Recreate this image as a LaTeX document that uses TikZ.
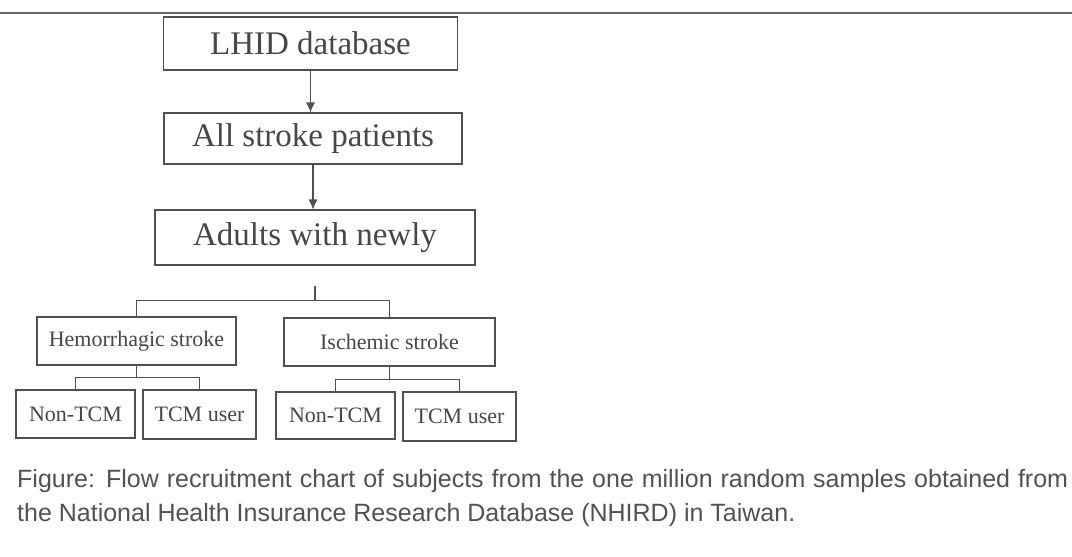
\documentclass[tikz,border=0pt]{standalone}
\usepackage{fontspec}
\setmainfont{Liberation Serif}
\newfontfamily\capfont{Liberation Sans}
\usetikzlibrary{calc,arrows.meta}

\definecolor{inkgray}{HTML}{474747}
\definecolor{linegray}{HTML}{505050}
\definecolor{capgray}{HTML}{525252}

\tikzset{
	bigbox/.style={draw=linegray, line width=1.1pt, text=inkgray, inner sep=0pt,
		font=\fontsize{33}{33}\selectfont},
	smallbox/.style={draw=linegray, line width=1.1pt, text=inkgray, inner sep=0pt,
		font=\fontsize{22}{22}\selectfont},
	flow/.style={draw=linegray, line width=1.1pt, -{Latex[length=10pt,width=9pt]}},
	branch/.style={draw=linegray, line width=1.1pt},
	capline/.style={anchor=base west, inner sep=0pt, text=capgray,
		font=\capfont\fontsize{25}{34}\selectfont}
}

\begin{document}
\begin{tikzpicture}[x=1pt, y=-1pt]
			%%%%% START %%%%%
			\useasboundingbox[fill=white] (0, 0) rectangle (1072, 557);
			
			\draw[line width=1.3pt, color=black!60] (0, 13) -- (1072, 13);
			
			\node[bigbox, minimum width=294pt, minimum height=53pt] (lhid) at (310.5, 43.5) {LHID database};
			\node[bigbox, minimum width=298pt, minimum height=51pt] (allstroke) at (313, 138.5) {All stroke patients};
			\node[bigbox, minimum width=320pt, minimum height=55pt] (adults) at (315, 237.5) {Adults with newly};
			
			\draw[flow] (lhid.south) -- (lhid.south |- allstroke.north);
			\draw[flow] (allstroke.south) -- (allstroke.south |- adults.north);
			
			\node[smallbox, minimum width=199pt, minimum height=48pt] (hemo) at (136.5, 341) {Hemorrhagic stroke};
			\node[smallbox, minimum width=211pt, minimum height=48pt] (isch) at (389.5, 342) {Ischemic stroke};
			
			\coordinate (tick) at ($(adults.south)+(0, 20)$);
			\coordinate (fork) at ($(adults.south)+(0, 35)$);
			\draw[branch] (tick) -- (fork);
			\draw[branch] (hemo.north) |- (fork) -| (isch.north);
			
			\node[smallbox, minimum width=119pt, minimum height=48pt] (nonA) at (75.5, 414) {Non-TCM};
			\node[smallbox, minimum width=113pt, minimum height=49pt] (tcmA) at (199.5, 414.5) {TCM user};
			\node[smallbox, minimum width=119pt, minimum height=47pt] (nonB) at (335.5, 415.5) {Non-TCM};
			\node[smallbox, minimum width=113pt, minimum height=49pt] (tcmB) at (459.5, 416.5) {TCM user};
			
			\coordinate (forkA) at ($(hemo.south)+(0, 12)$);
			\draw[branch] (hemo.south) -- (forkA);
			\draw[branch] (nonA.north) |- (forkA) -| (tcmA.north);
			
			\coordinate (forkB) at ($(isch.south)+(0, 13)$);
			\draw[branch] (isch.south) -- (forkB);
			\draw[branch] (nonB.north) |- (forkB) -| (tcmB.north);
			
			\node[capline] (capA) at (17, 487.5) {\makebox[1051pt][s]{Figure: Flow recruitment chart of subjects from the one million random samples obtained from}};
			\node[capline] (capB) at (17, 521.5) {the National Health Insurance Research Database (NHIRD) in Taiwan.};
			%%%%% END %%%%%
\end{tikzpicture}
\end{document}
